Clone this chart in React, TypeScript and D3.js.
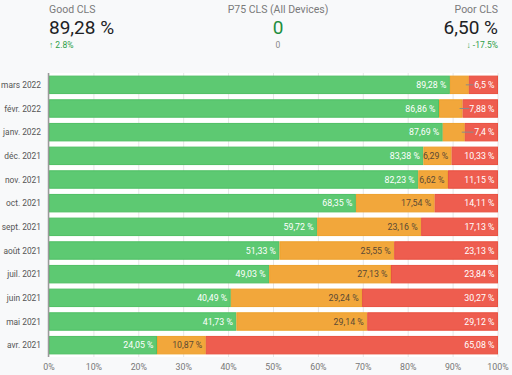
import React from "react";
import * as d3 from "d3";

const months = ["mars 2022", "févr. 2022", "janv. 2022", "déc. 2021", "nov. 2021", "oct. 2021", "sept. 2021", "août 2021", "juil. 2021", "juin 2021", "mai 2021", "avr. 2021"];
const good = [89.28, 86.86, 87.69, 83.38, 82.23, 68.35, 59.72, 51.33, 49.03, 40.49, 41.73, 24.05];
const needsImprovement = [4.22, 5.26, 4.91, 6.29, 6.62, 17.54, 23.16, 25.55, 27.13, 29.24, 29.14, 10.87];
const poor = [6.5, 7.88, 7.4, 10.33, 11.15, 14.11, 17.13, 23.13, 23.84, 30.27, 29.12, 65.08];
const xTicks = [0, 10, 20, 30, 40, 50, 60, 70, 80, 90, 100];

const kpiTitles = ["Good CLS", "P75 CLS (All Devices)", "Poor CLS"];
const kpiValues = ["89,28 %", "0", "6,50 %"];
const kpiDeltas = ["↑ 2.8%", "0", "↓ -17.5%"];

const W = 512, H = 375;
const FONT = "Roboto, 'Open Sans', sans-serif";
const fills = ["#5dc972", "#f2a73b", "#ee5d4f"];
const strokes = ["#4fbf64", "#eda12c", "#e8513f"];
const labelColors = ["#ffffff", "#5a4a35", "#ffffff"];

const fmt = (v: number) => (Math.round(v * 100) / 100).toString().replace(".", ",") + " %";

export default function App() {
  const left = 49, right = 498, top = 73, bottom = 357;
  const x = d3.scaleLinear().domain([0, 100]).range([left, right]);
  const y = d3.scaleBand<string>().domain(months).range([top, bottom]).paddingInner(0.22).paddingOuter(0.11);
  const series = [good, needsImprovement, poor];

  const rows = months.map((m, i) => {
    let acc = 0;
    const segs = series.map((s, k) => {
      const x0 = acc;
      acc += s[i];
      return { k, v: s[i], x0, x1: acc };
    });
    return { m, segs };
  });

  const labelW = (t: string) => t.length * 4.2;

  return (
    <svg width={W} height={H} style={{ position: "absolute", left: 0, top: 0, background: "#f8f9fa", fontFamily: FONT }}>
      <rect x={0} y={0} width={W} height={H} fill="#f8f9fa" />
      {[0, 1, 2].map((i) => {
        const xs = [49, 278, 498][i];
        const anchor = ["start", "middle", "end"][i] as any;
        return (
          <g key={i}>
            <text x={xs} y={13} fontSize={10.5} fill="#7a7a7a" textAnchor={anchor}>{kpiTitles[i]}</text>
            <text x={xs} y={34} fontSize={19} fill={i === 1 ? "#1e8e3e" : "#202124"} textAnchor={anchor}>{kpiValues[i]}</text>
            <text x={xs} y={48} fontSize={8.5} fill={i === 1 ? "#888" : "#2e9e48"} textAnchor={anchor}>{kpiDeltas[i]}</text>
          </g>
        );
      })}
      <rect x={left} y={top} width={right - left} height={bottom - top} fill="#ffffff" />
      {xTicks.map((t) => (
        <g key={t}>
          <line x1={x(t)} x2={x(t)} y1={top} y2={bottom} stroke="#e6e6e6" strokeWidth={1} />
          <text x={x(t)} y={370} fontSize={8.8} fill="#777" textAnchor="middle">{t}%</text>
        </g>
      ))}
      {rows.map((r) => {
        const by = y(r.m)!;
        const bh = y.bandwidth();
        const cy = by + bh / 2;
        const orangeHidden = x(r.segs[1].x1) - x(r.segs[1].x0) < 26;
        return (
          <g key={r.m}>
            <text x={41} y={cy + 3.2} fontSize={8.4} fill="#555" textAnchor="end">{r.m}</text>
            {r.segs.map((s) => (
              <rect key={s.k} x={x(s.x0) + 0.5} y={by + 0.5} width={Math.max(0, x(s.x1) - x(s.x0) - 1)} height={bh - 1}
                fill={fills[s.k]} stroke={strokes[s.k]} strokeWidth={1} />
            ))}
            {r.segs.map((s) => {
              const t = fmt(s.v);
              if (s.k === 1 && orangeHidden) return null;
              const tx = Math.min(x(s.x1) - 3.5, right - 2);
              const lead = s.k === 2 && orangeHidden;
              return (
                <g key={"l" + s.k}>
                  {lead && (
                    <line x1={x(s.x0) - 3} x2={tx - labelW(t)} y1={cy} y2={cy} stroke="#8a8a8a" strokeWidth={1} />
                  )}
                  <text x={tx} y={cy + 3.2} fontSize={8.8} fill={labelColors[s.k]} textAnchor="end">{t}</text>
                </g>
              );
            })}
          </g>
        );
      })}
      <line x1={left - 0.5} x2={left - 0.5} y1={top} y2={bottom} stroke="#9a9a9a" strokeWidth={1.5} />
    </svg>
  );
}
